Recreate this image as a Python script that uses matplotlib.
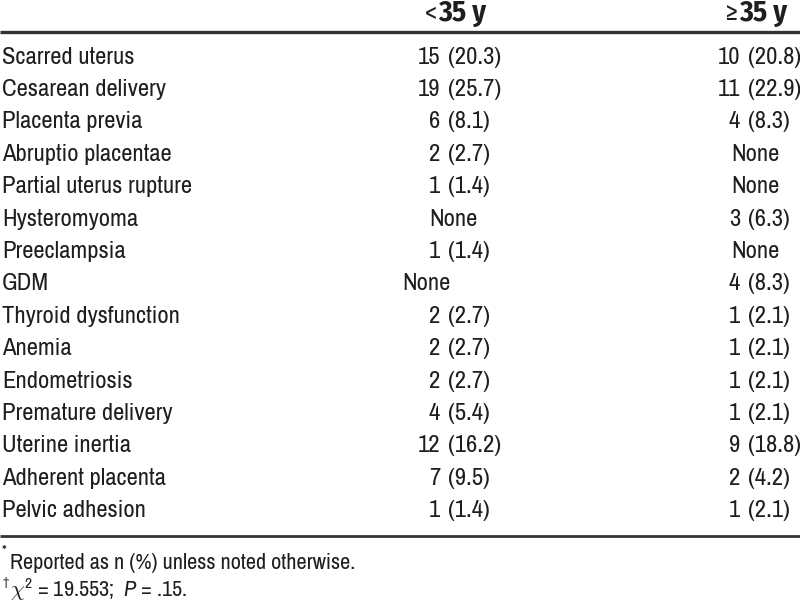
import matplotlib
matplotlib.use("Agg")
import matplotlib.pyplot as plt

FONT = 'Archivo Narrow'
BOLD = 'Fira Sans Condensed'
plt.rcParams['font.family'] = [FONT, 'DejaVu Sans']
plt.rcParams['mathtext.fontset'] = 'custom'
plt.rcParams['mathtext.rm'] = FONT
plt.rcParams['mathtext.it'] = FONT + ':italic'
plt.rcParams['mathtext.bf'] = BOLD + ':bold'

# table data
header_signs = ['<', '≥']
header_age = '35 y'
labels = ['Scarred uterus', 'Cesarean delivery', 'Placenta previa', 'Abruptio placentae',
          'Partial uterus rupture', 'Hysteromyoma', 'Preeclampsia', 'GDM',
          'Thyroid dysfunction', 'Anemia', 'Endometriosis', 'Premature delivery',
          'Uterine inertia', 'Adherent placenta', 'Pelvic adhesion']
young = ['15 (20.3)', '19 (25.7)', '6 (8.1)', '2 (2.7)', '1 (1.4)', 'None', '1 (1.4)', 'None',
         '2 (2.7)', '2 (2.7)', '2 (2.7)', '4 (5.4)', '12 (16.2)', '7 (9.5)', '1 (1.4)']
old = ['10 (20.8)', '11 (22.9)', '4 (8.3)', 'None', 'None', '3 (6.3)', 'None', '4 (8.3)',
       '1 (2.1)', '1 (2.1)', '1 (2.1)', '1 (2.1)', '9 (18.8)', '2 (4.2)', '1 (2.1)']
note1 = 'Reported as n (%) unless noted otherwise.'
note2 = r'$\chi^{2}$ = 19.553;  $P$ = .15.'

ink = '#1e1e1e'
fig = plt.figure(figsize=(8, 6.06), dpi=100)
ax = fig.add_axes([0, 0, 1, 1])
ax.set_xlim(0, 800)
ax.set_ylim(606, 0)
ax.axis('off')

# font sizes matched to widths measured on the reference
r = fig.canvas.get_renderer()
probe = ax.text(0, 0, labels[0], fontsize=16)
fs = 16 * 133 / probe.get_window_extent(r).width
probe.remove()
probe = ax.text(0, 0, header_age, fontsize=16, family=BOLD, weight='bold')
fs_head = 16 * 48 / probe.get_window_extent(r).width
probe.remove()

# header: sign then bold age, one per column (left edge of the bold part)
for sign, x in zip(header_signs, [438, 739]):
    ax.text(x - 1, 13, sign, ha='right', va='center', fontsize=fs, color=ink)
    ax.text(x, 13, header_age, ha='left', va='center', fontsize=fs_head, color=ink,
            family=BOLD, weight='bold')
ax.plot([0, 800], [32, 32], color='#333333', lw=2.4, solid_capstyle='butt')

# body: values aligned on the opening parenthesis
y0, dy = 57, 32.4
cols = [(young, 448, 453), (old, 748, 755)]
for i, lab in enumerate(labels):
    y = y0 + i * dy
    ax.text(2, y, lab, ha='left', va='center', fontsize=fs, color=ink)
    for vals, xp, xn in cols:
        v = vals[i]
        if v == 'None':
            if lab == 'GDM' and vals is young:
                xn = 426
            ax.text(xn, y, v, ha='center', va='center', fontsize=fs, color=ink)
        else:
            n, p = v.split(' ')
            ax.text(xp - 8, y, n, ha='right', va='center', fontsize=fs, color=ink)
            ax.text(xp, y, p, ha='left', va='center', fontsize=fs, color=ink)

ax.plot([0, 800], [536, 536], color='#333333', lw=2.0, solid_capstyle='butt')

# footnotes
ax.text(2, 551, '*', ha='left', va='center', fontsize=fs * 0.6, color=ink)
ax.text(10, 563, note1, ha='left', va='center', fontsize=fs * 0.9, color=ink)
ax.text(2, 582, '†', ha='left', va='center', fontsize=fs * 0.55, color=ink)
ax.text(10, 590, note2, ha='left', va='center', fontsize=fs * 0.9, color=ink)

fig.savefig('out.png', dpi=100)
